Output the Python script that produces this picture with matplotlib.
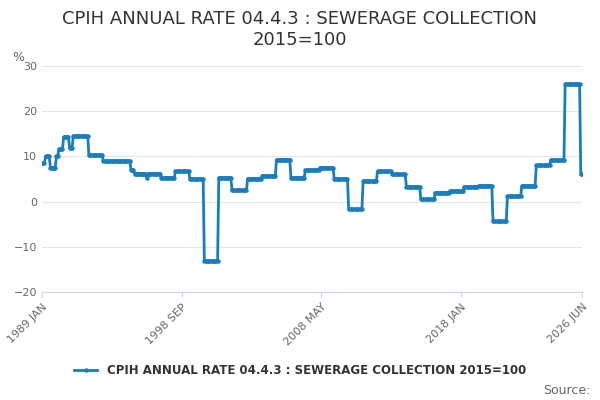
import numpy as np
import pandas as pd
import matplotlib.pyplot as plt

# step changes: start month and rate
starts = ['1989-01', '1989-04', '1989-08', '1990-01', '1990-03', '1990-07',
          '1990-12', '1991-03', '1992-04', '1993-04', '1995-03', '1995-06',
          '1996-04', '1996-05', '1997-04', '1998-04', '1999-04', '2000-04',
          '2001-04', '2002-03', '2003-04', '2004-04', '2005-04', '2006-04',
          '2007-04', '2008-04', '2009-04', '2010-04', '2011-04', '2012-04',
          '2013-04', '2014-04', '2015-04', '2016-04', '2017-04', '2018-04',
          '2019-04', '2020-04', '2021-04', '2022-04', '2023-04', '2024-04',
          '2025-04', '2026-05']
rates = [8.5, 10.0, 7.5, 10.0, 11.6, 14.3,
         11.8, 14.5, 10.3, 9.0, 7.0, 6.2,
         5.3, 6.2, 5.3, 6.7, 5.0, -13.2,
         5.3, 2.5, 5.1, 5.7, 9.3, 5.3,
         7.0, 7.5, 5.0, -1.7, 4.5, 6.7,
         6.0, 3.3, 0.5, 2.0, 2.3, 3.3,
         3.5, -4.4, 1.2, 3.5, 8.0, 9.2,
         26.0, 6.0]

months = pd.period_range('1989-01', '2026-06', freq='M')
s = pd.Series(np.nan, index=months)
for st, r in zip(starts, rates):
    s[pd.Period(st, 'M')] = r
s = s.ffill()
x = np.arange(len(s))

col = '#1a7dbf'
fig, ax = plt.subplots(figsize=(6, 4), dpi=100)
fig.subplots_adjust(left=0.07, right=0.97, top=0.835, bottom=0.27)
ax.plot(x, s.values, color=col, lw=2, marker='o', ms=2.2,
        label='CPIH ANNUAL RATE 04.4.3 : SEWERAGE COLLECTION 2015=100')
ax.set_ylim(-20, 30)
ax.set_yticks([-20, -10, 0, 10, 20, 30])
ax.set_xlim(0, len(s) - 1)
ticks = [0, 116, 232, 348, len(s) - 1]
ax.set_xticks(ticks)
ax.set_xticklabels(['1989 JAN', '1998 SEP', '2008 MAY', '2018 JAN', '2026 JUN'],
                   rotation=45, ha='right', rotation_mode='anchor')
ax.grid(axis='y', color='#e6e6e6', lw=0.8)
for sp in ['top', 'right', 'left']:
    ax.spines[sp].set_visible(False)
ax.spines['bottom'].set_color('#ccd6eb')
ax.tick_params(axis='y', length=0, labelsize=8, colors='#666666')
ax.tick_params(axis='x', labelsize=8, colors='#666666', color='#ccd6eb')
ax.text(-0.055, 1.02, '%', transform=ax.transAxes, fontsize=9, color='#666666')

fig.suptitle('CPIH ANNUAL RATE 04.4.3 : SEWERAGE COLLECTION\n2015=100',
             fontsize=13, color='#333333', y=0.975)
fig.legend(loc='lower center', bbox_to_anchor=(0.5, 0.03), frameon=False,
           fontsize=8.5, handlelength=2, labelcolor='#333333',
           prop={'weight': 'bold', 'size': 8.5})
fig.text(0.985, 0.015, 'Source:', ha='right', fontsize=9, color='#666666')
fig.savefig('out.png')
